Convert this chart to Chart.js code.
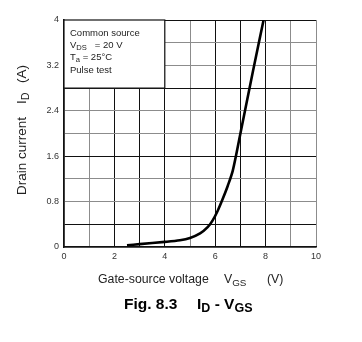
<!DOCTYPE html>
<html>
<head>
<meta charset="utf-8">
<script src="https://cdn.jsdelivr.net/npm/chart.js@4/dist/chart.umd.min.js"></script>
<style>
  html, body { margin: 0; padding: 0; background: #fff; }
  #wrap { width: 362px; height: 342px; }
</style>
</head>
<body>
<div id="wrap"><canvas id="idVgs"></canvas></div>
<script>
// ID - VGS transfer curve (VDS = 20 V, Ta = 25°C)
const vgs = [2.5, 3.0, 4.0, 4.6, 5.0, 5.4, 5.7, 5.9, 6.1, 6.3, 6.5, 6.7, 7.0, 7.5, 7.92];
const drainCurrent = [0.03, 0.05, 0.09, 0.12, 0.16, 0.24, 0.35, 0.47, 0.64, 0.85, 1.08, 1.35, 2.0, 3.1, 4.0];

const xTicks = [0, 2, 4, 6, 8, 10];
const yTicks = [0, 0.8, 1.6, 2.4, 3.2, 4];
const noteLines = ['Common source', 'VDS = 20 V', 'Ta = 25°C', 'Pulse test'];

const FONT = "'Liberation Sans', Arial, sans-serif";
const DARK = '#111';
const LIGHT = '#8c8c8c';

// grid shading of the printed sheet
const xDark = [2, 3, 4, 6, 7, 8];
const yDark = [0.4, 1.6, 2.8];

// draws a run of [text, isSubscript] parts starting at x, returns end x
function drawParts(ctx, parts, x, y, size) {
  parts.forEach(([txt, sub]) => {
    ctx.font = (sub ? size * 0.8 : size) + 'px ' + FONT;
    ctx.fillText(txt, x, sub ? y + size * 0.25 : y);
    x += ctx.measureText(txt).width;
  });
  return x;
}

const labelsPlugin = {
  id: 'labels',
  afterDatasetsDraw(chart) {
    const { ctx, scales: { x, y } } = chart;
    ctx.save();

    // note box in the upper-left corner of the grid
    const bx0 = x.getPixelForValue(0), bx1 = x.getPixelForValue(4);
    const by0 = y.getPixelForValue(4), by1 = y.getPixelForValue(2.8);
    ctx.fillStyle = '#fff';
    ctx.fillRect(bx0, by0, bx1 - bx0, by1 - by0);
    ctx.strokeStyle = DARK;
    ctx.lineWidth = 1.2;
    ctx.strokeRect(bx0, by0, bx1 - bx0, by1 - by0);

    ctx.fillStyle = '#222';
    ctx.textBaseline = 'alphabetic';
    ctx.textAlign = 'left';
    const nx = 70, size = 9.5;
    drawParts(ctx, [[noteLines[0], false]], nx, 36, size);
    drawParts(ctx, [['V', false], ['DS', true], ['   = 20 V', false]], nx, 48, size);
    drawParts(ctx, [['T', false], ['a', true], [' = 25°C', false]], nx, 60, size);
    drawParts(ctx, [[noteLines[3], false]], nx, 73, size);

    // x axis title
    ctx.fillStyle = '#222';
    drawParts(ctx, [['Gate-source voltage', false]], 98, 283, 12.3);
    drawParts(ctx, [['V', false], ['GS', true]], 224, 283, 12.3);
    drawParts(ctx, [['(V)', false]], 267, 283, 12.3);

    // y axis title, rotated
    ctx.save();
    ctx.translate(26, 0);
    ctx.rotate(-Math.PI / 2);
    drawParts(ctx, [['Drain current', false]], -195, 0, 13.5);
    drawParts(ctx, [['I', false], ['D', true]], -104, 0, 13.5);
    drawParts(ctx, [['(A)', false]], -83, 0, 13.5);
    ctx.restore();

    // figure caption
    ctx.fillStyle = '#000';
    ctx.font = 'bold 15.5px ' + FONT;
    ctx.fillText('Fig. 8.3', 124, 309);
    let cx = 197;
    [['I', false], ['D', true], [' - V', false], ['GS', true]].forEach(([txt, sub]) => {
      ctx.font = (sub ? 'bold 12.5px ' : 'bold 15.5px ') + FONT;
      ctx.fillText(txt, cx, sub ? 312 : 309);
      cx += ctx.measureText(txt).width;
    });

    ctx.restore();
  }
};

new Chart(document.getElementById('idVgs'), {
  type: 'line',
  data: {
    datasets: [{
      data: vgs.map((v, i) => ({ x: v, y: drainCurrent[i] })),
      borderColor: '#000',
      borderWidth: 2.6,
      pointRadius: 0,
      fill: false,
      tension: 0.3
    }]
  },
  options: {
    responsive: true,
    maintainAspectRatio: false,
    animation: false,
    layout: { padding: { left: 0, top: 20, right: 46, bottom: 75 } },
    plugins: { legend: { display: false }, tooltip: { enabled: false } },
    scales: {
      x: {
        type: 'linear',
        min: 0, max: 10,
        afterFit: s => { s.height = 20; },
        border: { color: DARK, width: 1.6 },
        grid: {
          drawTicks: false,
          lineWidth: 1,
          color: c => xDark.includes(Math.round(c.tick.value)) ? DARK : LIGHT
        },
        ticks: {
          stepSize: 1,
          padding: 4,
          color: '#333',
          font: { family: FONT, size: 9 },
          maxRotation: 0,
          autoSkip: false,
          callback: v => xTicks.includes(Math.round(v)) ? String(Math.round(v)) : ''
        }
      },
      y: {
        type: 'linear',
        min: 0, max: 4,
        afterFit: s => { s.width = 64; },
        border: { color: DARK, width: 1.6 },
        grid: {
          drawTicks: false,
          lineWidth: 1,
          color: c => {
            const v = Math.round(c.tick.value * 10) / 10;
            return (yDark.includes(v) || v === 4) ? DARK : LIGHT;
          }
        },
        ticks: {
          stepSize: 0.4,
          padding: 5,
          color: '#333',
          font: { family: FONT, size: 9 },
          autoSkip: false,
          callback: v => {
            const r = Math.round(v * 10) / 10;
            return yTicks.includes(r) ? String(r) : '';
          }
        }
      }
    }
  },
  plugins: [labelsPlugin]
});
</script>
</body>
</html>
